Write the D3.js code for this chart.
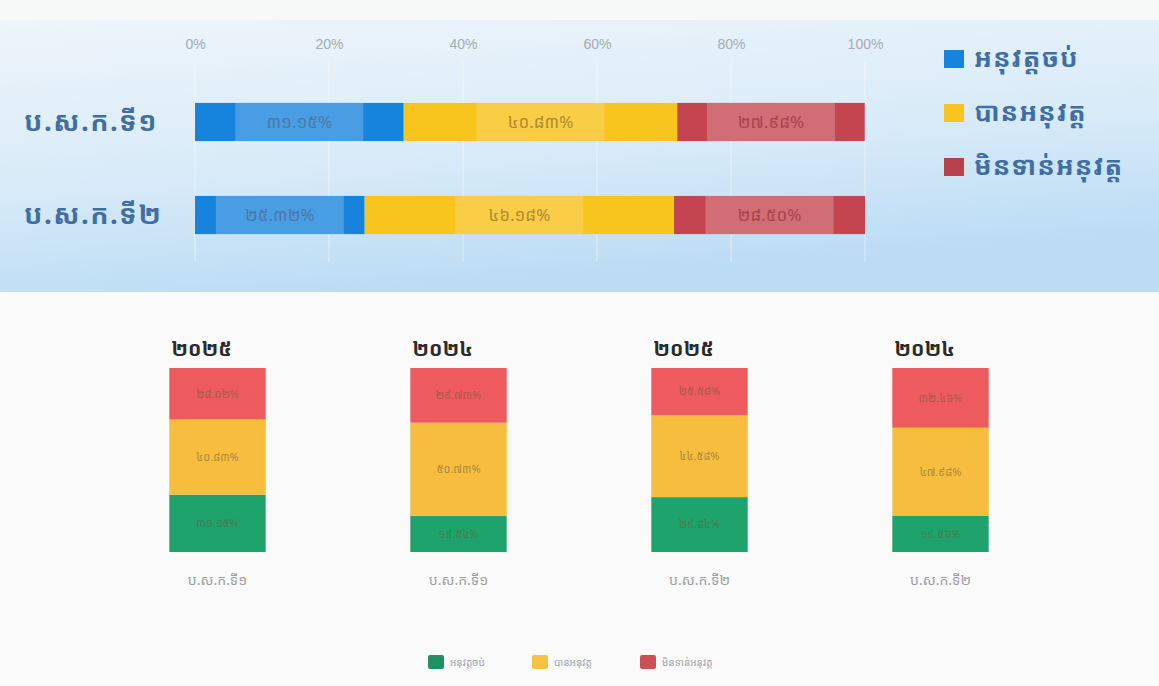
<!DOCTYPE html>
<html>
<head>
<meta charset="utf-8">
<script src="https://cdn.jsdelivr.net/npm/d3@7"></script>
<style>
  body { margin: 0; background: #f7f8f8; }
  svg { display: block; font-family: "Noto Sans Khmer", "Noto Sans", sans-serif; }
</style>
</head>
<body>
<svg id="chart" width="1159" height="686"></svg>
<script>
// top chart data (percent)
const rows = ["ប.ស.ក.ទី១", "ប.ស.ក.ទី២"];
const rowDone = [31.15, 25.32];
const rowDoing = [40.83, 46.18];
const rowNotYet = [27.98, 28.50];
const seriesNames = ["អនុវត្តចប់", "បានអនុវត្ត", "មិនទាន់អនុវត្ត"];
const xTicks = [0, 20, 40, 60, 80, 100];

// bottom chart data (percent)
const colYears = ["២០២៥", "២០២៤", "២០២៥", "២០២៤"];
const colNames = ["ប.ស.ក.ទី១", "ប.ស.ក.ទី១", "ប.ស.ក.ទី២", "ប.ស.ក.ទី២"];
const colDone = [31.15, 19.54, 29.84, 19.56];
const colDoing = [40.83, 50.73, 44.58, 47.98];
const colNotYet = [28.02, 29.73, 25.58, 32.46];

const khDigits = "០១២៣៤៥៦៧៨៩";
const kh = s => String(s).replace(/[0-9]/g, d => khDigits[+d]);
const pct = v => kh(v.toFixed(2)) + "%";

const svg = d3.select("#chart");

// background panel for the top chart
const defs = svg.append("defs");
const grad = defs.append("linearGradient").attr("id", "panel")
  .attr("x1", "0").attr("y1", "0").attr("x2", "0.3").attr("y2", "1");
grad.append("stop").attr("offset", "0").attr("stop-color", "#eef5fb");
grad.append("stop").attr("offset", "0.55").attr("stop-color", "#d9ebf8");
grad.append("stop").attr("offset", "1").attr("stop-color", "#bcdcf4");
svg.append("rect").attr("x", 0).attr("y", 20).attr("width", 1159).attr("height", 272)
  .attr("fill", "url(#panel)");
svg.append("rect").attr("x", 0).attr("y", 292).attr("width", 1159).attr("height", 394)
  .attr("fill", "#fafafa");

// ---- top horizontal stacked bars
const x = d3.scaleLinear().domain([0, 100]).range([195, 865]);
const y = d3.scaleBand().domain(rows).range([75, 262]).paddingInner(0.59).paddingOuter(0.3);

const topColors = ["#1683dc", "#f8c41e", "#c4454f"];
const topText = ["#4c78a8", "#b08a2e", "#a8454a"];

svg.append("g").selectAll("line").data(xTicks).join("line")
  .attr("x1", d => x(d)).attr("x2", d => x(d))
  .attr("y1", 62).attr("y2", 262)
  .attr("stroke", "#ffffff").attr("stroke-opacity", 0.5);

const xAxis = g => g
  .attr("transform", "translate(0, 52)")
  .call(d3.axisTop(x).tickValues(xTicks).tickFormat(d => d + "%").tickSize(0))
  .call(g => g.select(".domain").remove())
  .call(g => g.selectAll("text").attr("fill", "#a3acb5").attr("font-size", 14)
    .attr("font-family", "Liberation Sans, sans-serif"));
svg.append("g").call(xAxis);

const topStack = rows.map((r, i) => {
  const vals = [rowDone[i], rowDoing[i], rowNotYet[i]];
  let acc = 0;
  return vals.map((v, k) => { const s = acc; acc += v; return {row: r, k, v, x0: s, x1: acc}; });
}).flat();

const seg = svg.append("g").selectAll("g").data(topStack).join("g");
seg.append("rect")
  .attr("x", d => x(d.x0)).attr("width", d => x(d.x1) - x(d.x0))
  .attr("y", d => y(d.row)).attr("height", y.bandwidth())
  .attr("fill", d => topColors[d.k]);
seg.append("rect")
  .attr("x", d => (x(d.x0) + x(d.x1)) / 2 - 64).attr("width", 128)
  .attr("y", d => y(d.row)).attr("height", y.bandwidth())
  .attr("fill", "#fff").attr("opacity", d => d.k === 1 ? 0.18 : 0.22);
seg.append("text")
  .attr("x", d => (x(d.x0) + x(d.x1)) / 2)
  .attr("y", d => y(d.row) + y.bandwidth() / 2)
  .attr("dy", "0.35em").attr("text-anchor", "middle")
  .attr("font-size", 17).attr("fill", d => topText[d.k])
  .text(d => pct(d.v));

svg.append("g").selectAll("text").data(rows).join("text")
  .attr("x", 24).attr("y", d => y(d) + y.bandwidth() / 2)
  .attr("dy", "0.35em").attr("font-size", 27).attr("font-weight", "bold")
  .attr("letter-spacing", 1.5).attr("fill", "#3f6ea3")
  .text(d => d);

// top legend
const lg = svg.append("g").selectAll("g").data(seriesNames).join("g")
  .attr("transform", (d, i) => `translate(944, ${58 + i * 54})`);
lg.append("rect").attr("x", 0).attr("y", -8).attr("width", 20).attr("height", 18)
  .attr("fill", (d, i) => ["#1683dc", "#f8c41e", "#b8424b"][i]);
lg.append("text").attr("x", 30).attr("dy", "0.35em").attr("font-size", 26)
  .attr("font-weight", "bold").attr("letter-spacing", 1).attr("fill", "#3e6ea5").text(d => d);

// ---- bottom vertical stacked bars
const bx = d3.scaleBand().domain(d3.range(colNames.length)).range([97, 1061])
  .paddingInner(0.6).paddingOuter(0.3);
const by = d3.scaleLinear().domain([0, 100]).range([552, 368]);
const botColors = ["#1ea36d", "#f6bd3f", "#ee5b5f"];

const colStack = colNames.map((c, i) => {
  const vals = [colDone[i], colDoing[i], colNotYet[i]];
  let acc = 0;
  return vals.map((v, k) => { const s = acc; acc += v; return {i, k, v, y0: s, y1: acc}; });
}).flat();

const cs = svg.append("g").selectAll("g").data(colStack).join("g");
cs.append("rect")
  .attr("x", d => bx(d.i)).attr("width", bx.bandwidth())
  .attr("y", d => by(d.y1)).attr("height", d => by(d.y0) - by(d.y1))
  .attr("fill", d => botColors[d.k]);
cs.append("text")
  .attr("x", d => bx(d.i) + bx.bandwidth() / 2)
  .attr("y", d => (by(d.y0) + by(d.y1)) / 2)
  .attr("dy", "0.35em").attr("text-anchor", "middle")
  .attr("font-size", 11).attr("fill", "#6b5a3a").attr("fill-opacity", 0.55)
  .text(d => pct(d.v));

svg.append("g").selectAll("text").data(colYears).join("text")
  .attr("x", (d, i) => bx(i) + 2)
  .attr("y", (d, i) => by(colDone[i] + colDoing[i] + colNotYet[i]) - 12)
  .attr("font-size", 20).attr("font-weight", "bold").attr("fill", "#2b2b2b")
  .text(d => d);

svg.append("g").selectAll("text").data(colNames).join("text")
  .attr("x", (d, i) => bx(i) + bx.bandwidth() / 2).attr("y", 580)
  .attr("dy", "0.35em").attr("text-anchor", "middle")
  .attr("font-size", 14).attr("fill", "#9a9ea3")
  .text(d => d);

// bottom legend
const blX = [428, 532, 640];
const bl = svg.append("g").selectAll("g").data(seriesNames).join("g")
  .attr("transform", (d, i) => `translate(${blX[i]}, 662)`);
bl.append("rect").attr("x", 0).attr("y", -7).attr("width", 16).attr("height", 14).attr("rx", 2)
  .attr("fill", (d, i) => ["#1f8f64", "#f5c344", "#cc4f53"][i]);
bl.append("text").attr("x", 22).attr("dy", "0.35em").attr("font-size", 10)
  .attr("fill", "#9ca1a6").text(d => d);
</script>
</body>
</html>
